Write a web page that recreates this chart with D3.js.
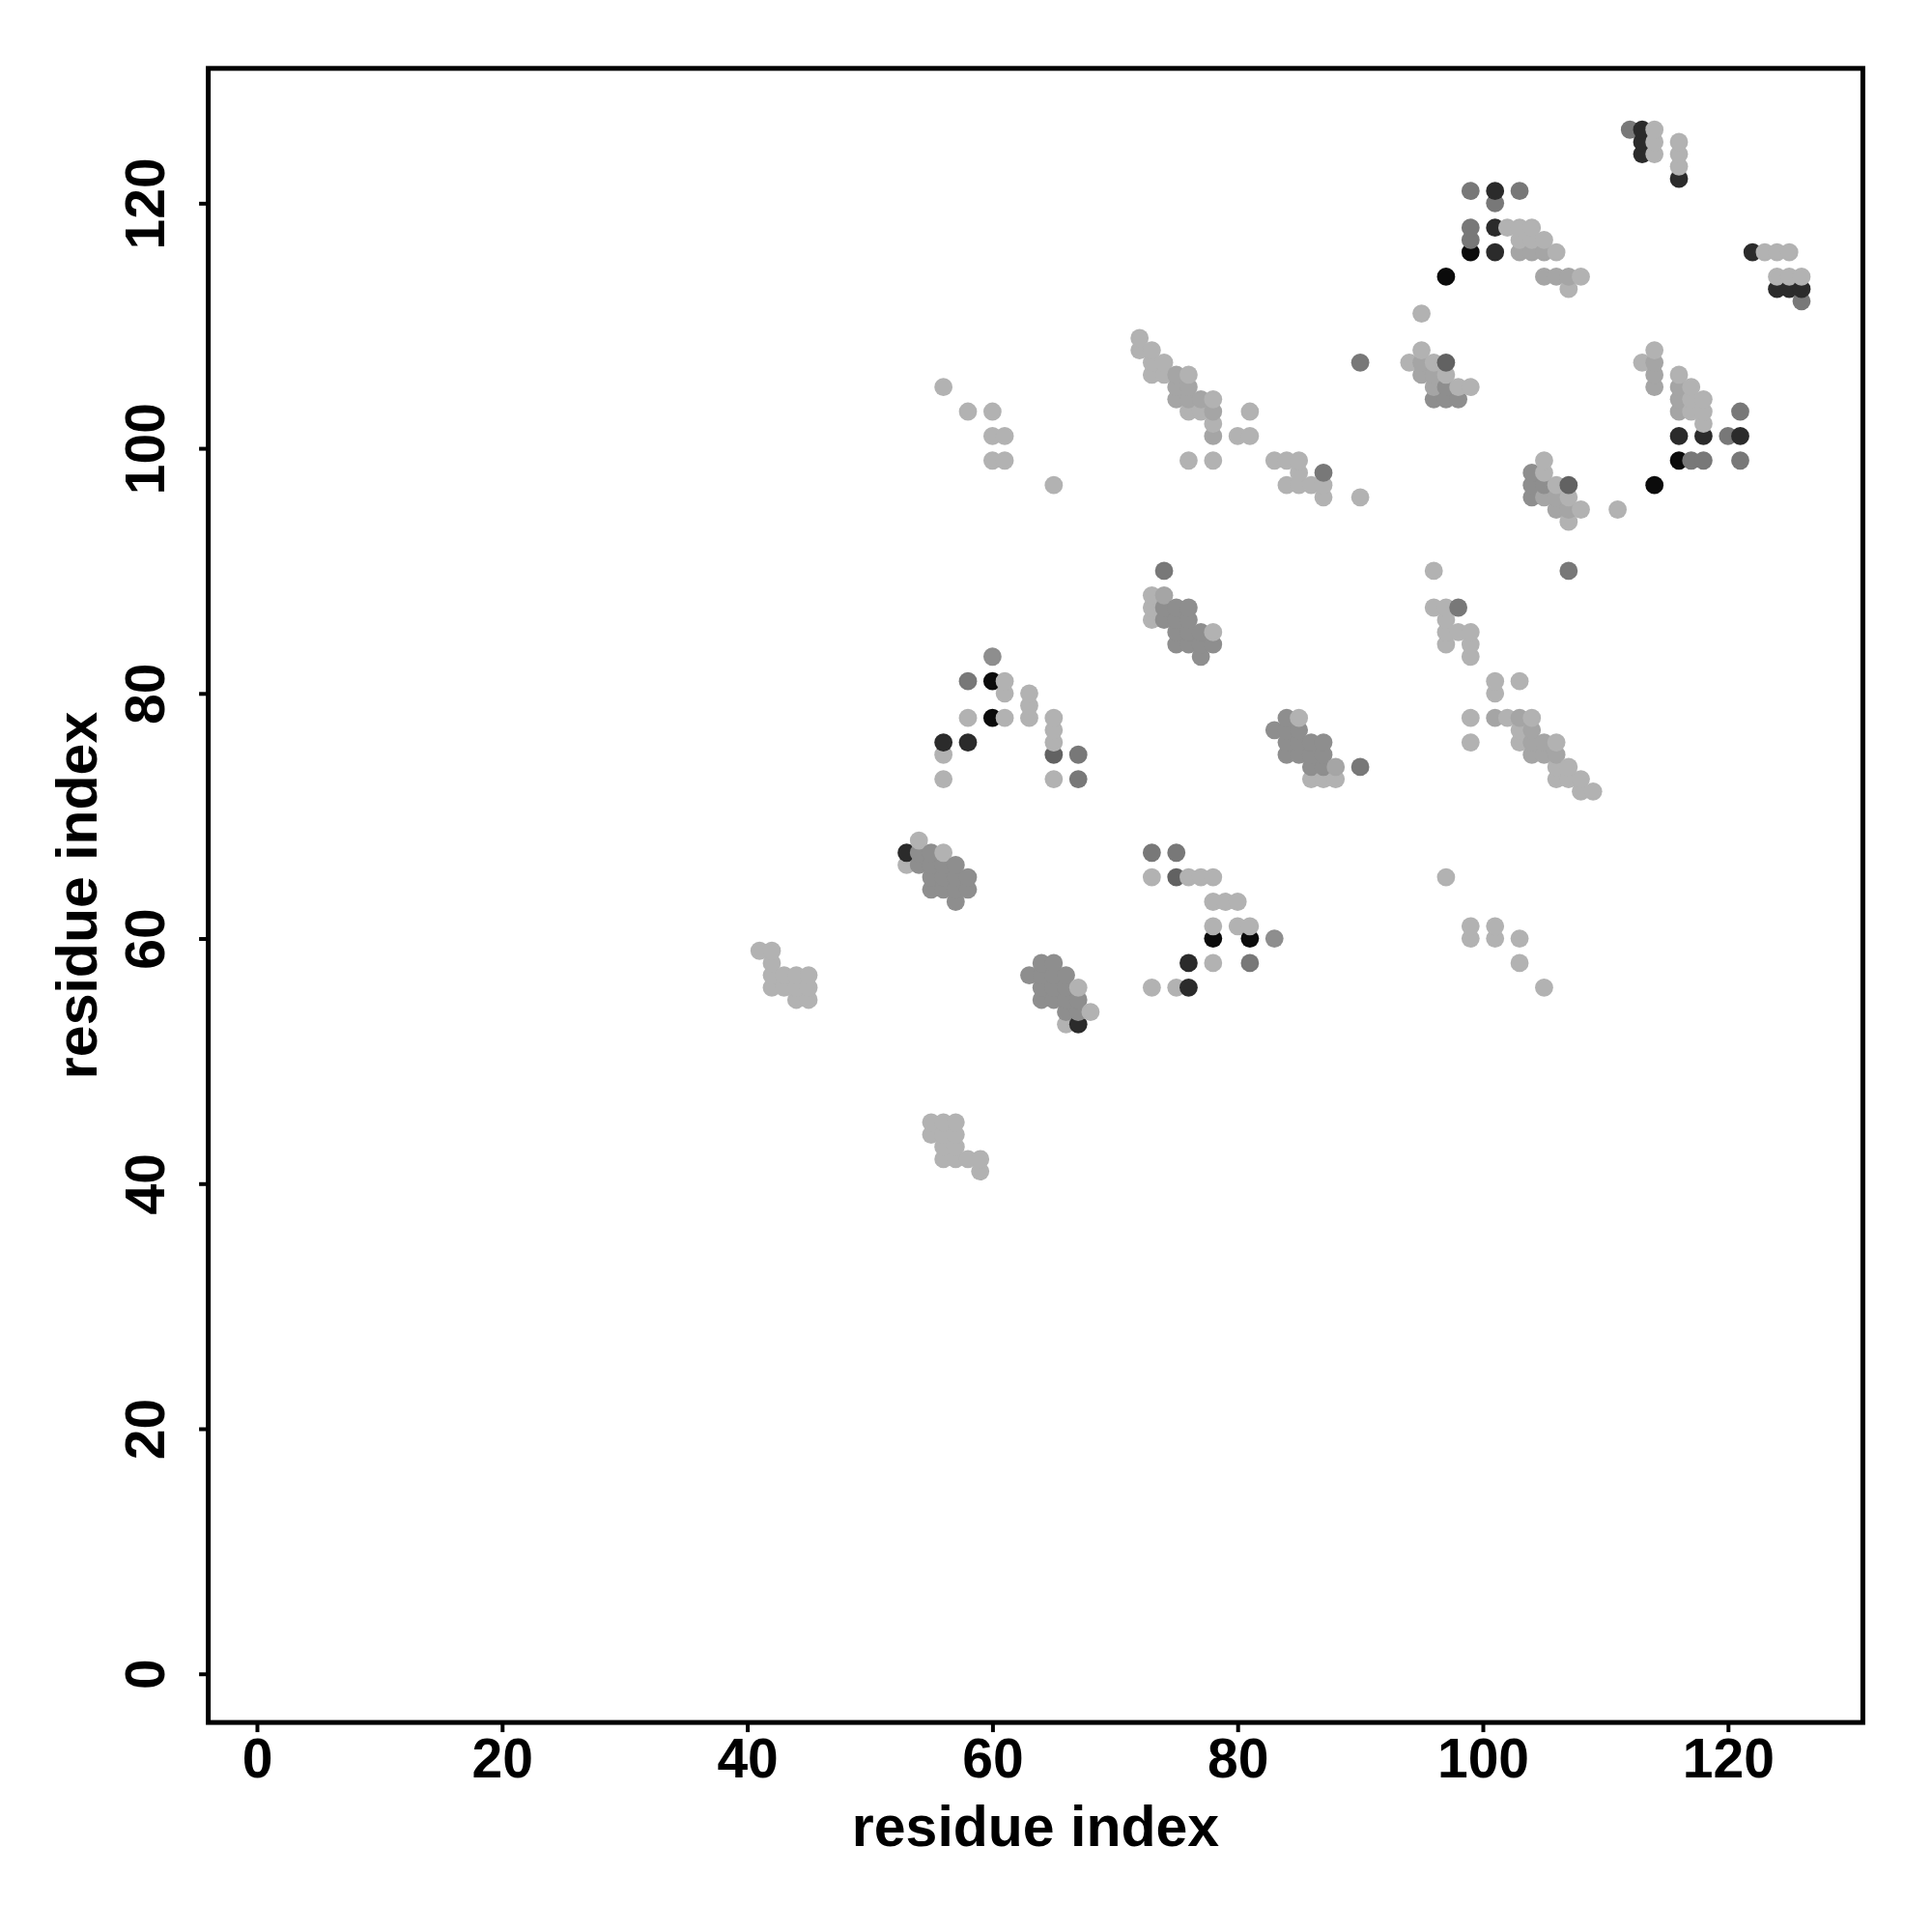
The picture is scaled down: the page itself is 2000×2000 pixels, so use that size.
<!DOCTYPE html>
<html><head><meta charset="utf-8">
<script src="https://cdn.jsdelivr.net/npm/d3@7"></script>
<style>body{margin:0;background:#fff}</style>
</head><body>
<script>
// ---- data (contact pairs i<j; the plot shows both (i,j) and (j,i)) ----
const tickValues = [0, 20, 40, 60, 80, 100, 120];
const axisTitle = "residue index";

const contactsLight = [
  [41,59],[42,59],[42,58],[42,57],[43,57],[44,57],[45,57],[42,56],[43,56],[44,56],[45,56],[44,55],[45,55],
  [54,68],[53,66],[56,67],
  [61,81],[61,80],[63,80],[63,79],[58,78],[61,78],[63,78],[65,78],[65,77],[65,76],[56,75],[56,73],[65,73],
  [56,105],[58,103],[60,103],[60,101],[61,101],[60,99],[61,99],[65,97],
  [72,109],[72,108],[73,108],[73,107],[74,107],[73,106],[74,106],[76,106],[78,104],[76,103],[77,103],[81,103],
  [78,102],[80,101],[81,101],[76,99],[78,99],[83,99],[84,99],[85,99],[85,98],[84,97],[85,97],[86,97],[87,97],[87,96],[90,96],
  [73,88],[73,87],[73,86],[78,85],
  [95,111],[95,108],[94,107],[96,107],[97,106],[98,105],[99,105],
  [102,118],[103,118],[104,118],[103,117],[104,117],[105,117],[106,116],[108,114],[107,113],
  [114,126],[114,125],[114,124],[116,125],[116,124],[116,123]
];
const contactsLightMid = [
  [75,106],[75,105],[76,105],[75,104],[76,104],[77,104],[78,103],[78,101],[74,88],
  [95,107],[95,106],[96,106],[96,105],
  [103,116],[104,116],[105,116],[105,114],[106,114],[107,114]
];
const contactsMid = [
  [54,67],[55,67],[54,66],[55,66],[56,66],[57,66],[55,65],[56,65],[57,65],[58,65],[55,64],[56,64],[57,64],[58,64],[57,63],
  [60,83],
  [74,87],[75,87],[76,87],[74,86],[75,86],[76,86],[75,85],[76,85],[77,85],[75,84],[76,84],[77,84],[78,84],[77,83],
  [97,105],[96,104],[97,104],[98,104]
];
const contactsDark = [
  [58,81],[67,73],[67,75],[74,90],[87,98],[90,107],[99,121],[103,121],[101,120],[99,118],[99,117],[112,126]
];
const contactsDarker = [[65,75],[97,107]];
const contactsNearBlack = [
  [53,67],[58,76],[56,76],[101,121],[101,118],[101,116],[113,126],[113,125],[113,124],[116,122]
];
const contactsBlack = [[60,78],[60,81],[97,114],[99,116]];

const shadeGroups = [
  {color: "#b2b2b2", pairs: contactsLight},
  {color: "#a5a5a5", pairs: contactsLightMid},
  {color: "#8e8e8e", pairs: contactsMid},
  {color: "#787878", pairs: contactsDark},
  {color: "#626262", pairs: contactsDarker},
  {color: "#2b2b2b", pairs: contactsNearBlack},
  {color: "#0b0b0b", pairs: contactsBlack}
];

// ---- build points (both triangles), draw in residue order ----
const points = [];
shadeGroups.forEach(g => g.pairs.forEach(([i, j]) => {
  points.push({x: i, y: j, color: g.color});
  points.push({x: j, y: i, color: g.color});
}));
points.sort((a, b) => a.x - b.x || a.y - b.y);

// ---- chart ----
const W = 2000, H = 2000;
const svg = d3.select("body").append("svg").attr("width", W).attr("height", H)
  .style("background", "#fff");

const x = d3.scaleLinear().domain([-3.97, 131.0]).range([215.6, 1928.4]);
const y = d3.scaleLinear().domain([-3.97, 131.0]).range([1783.1, 70.8]);

const FONT = "'Liberation Sans', Arial, Helvetica, sans-serif";

svg.append("g").selectAll("circle").data(points).join("circle")
  .attr("cx", d => x(d.x)).attr("cy", d => y(d.y))
  .attr("r", 9.4).attr("fill", d => d.color);

// x axis
const gx = svg.append("g").attr("transform", `translate(0,${y.range()[0]})`)
  .call(d3.axisBottom(x).tickValues(tickValues).tickSize(10).tickPadding(6));
gx.select(".domain").remove();
gx.selectAll(".tick line").attr("stroke", "#000").attr("stroke-width", 4);
gx.selectAll(".tick text").attr("font-family", FONT).attr("font-weight", "bold")
  .attr("font-size", 57).attr("fill", "#000");

// y axis
const gy = svg.append("g").attr("transform", `translate(${x.range()[0]},0)`)
  .call(d3.axisLeft(y).tickValues(tickValues).tickSize(9.5));
gy.select(".domain").remove();
gy.selectAll(".tick line").attr("stroke", "#000").attr("stroke-width", 4);
gy.selectAll(".tick text").attr("font-family", FONT).attr("font-weight", "bold")
  .attr("font-size", 57).attr("fill", "#000")
  .attr("transform", "rotate(-90)").attr("x", 0).attr("y", -46).attr("dy", 0)
  .attr("text-anchor", "middle");

// box
svg.append("rect")
  .attr("x", x.range()[0]).attr("y", y.range()[1])
  .attr("width", x.range()[1] - x.range()[0]).attr("height", y.range()[0] - y.range()[1])
  .attr("fill", "none").attr("stroke", "#000").attr("stroke-width", 5);

// titles
svg.append("text").attr("x", (x.range()[0] + x.range()[1]) / 2).attr("y", 1911)
  .attr("text-anchor", "middle").attr("font-family", FONT).attr("font-weight", "bold")
  .attr("font-size", 59).attr("fill", "#000").text(axisTitle);
svg.append("text")
  .attr("transform", `translate(100,${(y.range()[0] + y.range()[1]) / 2}) rotate(-90)`)
  .attr("text-anchor", "middle").attr("font-family", FONT).attr("font-weight", "bold")
  .attr("font-size", 59).attr("fill", "#000").text(axisTitle);
</script>
</body></html>
